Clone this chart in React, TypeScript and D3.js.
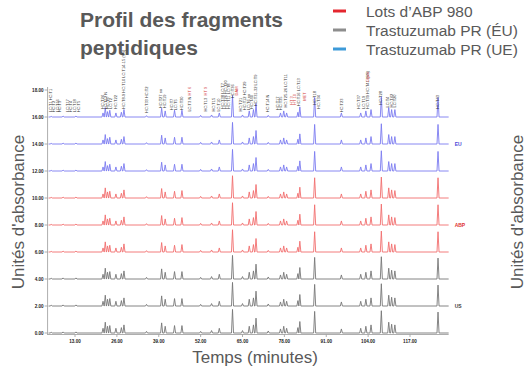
import React from "react";
import * as d3 from "d3";

// ---------- data ----------
const yTickValues = [0, 2, 4, 6, 8, 10, 12, 14, 16, 18];
const xTickValues = [13, 26, 39, 52, 65, 78, 91, 104, 117];

const traceOffsets = [16, 14, 12, 10, 8, 6, 4, 2, 0];
const traceSeries = ["EU", "EU", "EU", "ABP", "ABP", "ABP", "US", "US", "US"];
const seriesNames = ["EU", "ABP", "US"];
const seriesLabelOffsets = [14, 8, 2];

// retention time (min) of each peak
const peakTimes = [
  5.6, 9.3, 13.3, 21.7, 22.4, 23.1, 23.8, 25.7, 27.4, 28.2,
  35.2, 39.9, 41.0, 43.9, 46.2, 52.0, 55.4, 57.8, 61.9, 65.0,
  67.1, 68.4, 69.2, 73.0, 76.8, 77.8, 78.7, 82.2, 82.8, 87.4,
  95.7, 101.7, 103.3, 104.9, 108.1, 110.4, 111.3, 112.3, 125.7,
];
// peak heights (absorbance units)
const peakHeightsEU = [
  0.05, 0.07, 0.07, 0.3, 0.7, 0.4, 0.5, 0.3, 0.35, 0.55,
  0.1, 0.65, 0.45, 0.5, 0.5, 0.12, 0.15, 0.3, 1.6, 0.15,
  0.45, 0.55, 1.0, 0.12, 0.3, 0.45, 0.3, 0.35, 0.75, 1.45,
  0.3, 0.3, 0.45, 0.55, 1.5, 0.7, 0.55, 0.55, 1.45,
];
const peakHeightsABP = [
  0.05, 0.07, 0.07, 0.3, 0.75, 0.45, 0.5, 0.3, 0.35, 0.6,
  0.1, 0.7, 0.45, 0.5, 0.55, 0.12, 0.15, 0.3, 1.65, 0.15,
  0.45, 0.55, 1.0, 0.12, 0.3, 0.45, 0.3, 0.35, 0.8, 1.5,
  0.3, 0.3, 0.5, 0.6, 1.55, 0.75, 0.6, 0.55, 1.5,
];
const peakHeightsUS = [
  0.06, 0.08, 0.08, 0.35, 0.8, 0.5, 0.55, 0.35, 0.4, 0.6,
  0.12, 0.75, 0.5, 0.55, 0.55, 0.12, 0.18, 0.35, 1.75, 0.18,
  0.5, 0.6, 1.1, 0.15, 0.3, 0.5, 0.35, 0.4, 0.85, 1.6,
  0.3, 0.35, 0.5, 0.6, 1.65, 0.8, 0.65, 0.6, 1.55,
];

// peak annotations above the top trace
const annotTimes = [
  5.4, 6.4, 7.5, 8.4, 10.8, 11.8, 12.8, 14.0, 21.5, 22.4,
  23.2, 24.0, 25.7, 28.2, 35.2, 39.6, 40.8, 43.0, 44.2, 46.2,
  48.7, 48.7, 53.5, 53.5, 56.0, 57.6, 58.8, 59.8, 60.8, 61.9,
  63.2, 64.4, 65.6, 66.8, 68.0, 69.2, 72.7, 75.8, 77.0, 78.5,
  80.2, 81.2, 82.6, 84.2, 87.4, 88.8, 95.7, 101.2, 102.6, 104.0,
  104.0, 108.0, 110.2, 111.3, 112.4, 125.7,
];
const annotTexts = [
  "LC:T1 HC:T1", "HC:T2", "LC:T16", "HC:T3", "LC:T17", "HC:T4", "LC:T18", "HC:T5",
  "HC:T24", "LC:T12 N", "HC:T6", "LC:T2", "HC:T22", "HC:T8-9 HC:T10 LC:T14-15 (SS)",
  "HC:T33 HC:T2", "HC:T27 ox", "HC:T19", "HC:T7", "LC:T5", "HC:T30",
  "HT 6", "LC:T3 N", "HT 9", "HC:T13", "HC:T15", "LC:T10", "HC:T38 LC:T7",
  "HC:T26 HC:T20", "HC:T11 LC:T8", "HC:T36", "DAM", "HC:T21", "HC:T12 HC:T29",
  "LC:T6 ox", "HC:T40", "HC:T31-32 LC:T9", "HC:T14 N", "HC:T17", "HC:T35",
  "HC:T25-26 LC:T11", "HT 3", "HT 10", "HC:T16 LC:T13", "MET", "HC:T18",
  "HC:T34", "HC:T23", "HC:T37", "LC:T19", "HC:T39 HC:T41 (SS)", "Glyco",
  "HC:T28", "LC:T4", "HC:T42", "LC:T20", "HC:T43",
];
const annotColors = [
  "k", "k", "k", "k", "k", "k", "k", "k", "k", "k",
  "k", "k", "k", "k", "k", "k", "k", "k", "k", "k",
  "r", "k", "r", "k", "k", "k", "k", "k", "k", "k",
  "r", "k", "k", "k", "k", "k", "k", "k", "k", "k",
  "r", "r", "k", "r", "k", "k", "k", "k", "k", "k",
  "r", "k", "k", "k", "k", "k",
];
const annotLevels = [
  16.35, 16.35, 16.35, 16.35, 16.35, 16.35, 16.35, 16.35, 16.6, 16.6,
  16.6, 16.6, 16.6, 16.6, 16.3, 16.65, 16.65, 16.5, 16.5, 16.5,
  17.6, 16.4, 17.6, 16.4, 16.4, 16.4, 16.6, 16.6, 16.6, 17.4,
  17.6, 16.4, 16.5, 16.5, 16.6, 16.8, 16.35, 16.5, 16.5, 16.7,
  16.9, 16.9, 16.8, 17.2, 16.9, 16.6, 16.35, 16.6, 16.6, 16.6,
  18.6, 16.9, 16.7, 16.7, 16.7, 16.6,
];

const legendLabels = ["Lots d’ABP 980", "Trastuzumab PR (ÉU)", "Trastuzumab PR (UE)"];
const titleLines = ["Profil des fragments", "peptidiques"];

// ---------- styles ----------
const legendColors = ["#e4262f", "#8d8d8d", "#3d9ad8"];
const traceColors: Record<string, string> = { EU: "#7c7cf0", ABP: "#f26e6e", US: "#777777" };
const seriesLabelColors: Record<string, string> = { EU: "#4a4ad8", ABP: "#e03535", US: "#444444" };
const textGray = "#595959";
const FONT = "'Liberation Sans', Arial, sans-serif";

export default function App() {
  const W = 530;
  const H = 374;
  const x = d3.scaleLinear().domain([13, 117]).range([75, 410]);
  const y = d3.scaleLinear().domain([0, 18]).range([333, 90]);
  const tStart = 4.8;
  const tEnd = 129;
  const halfWidth = 0.32;
  const axisX = x(tStart) - 1;

  const heights: Record<string, number[]> = {
    EU: peakHeightsEU,
    ABP: peakHeightsABP,
    US: peakHeightsUS,
  };

  const line = d3
    .line<[number, number]>()
    .x((d) => x(d[0]))
    .y((d) => y(d[1]));

  const tracePath = (offset: number, hs: number[]) => {
    const pts: [number, number][] = [[tStart, offset]];
    peakTimes.forEach((t, i) => {
      pts.push([t - halfWidth, offset], [t, offset + hs[i]], [t + halfWidth, offset]);
    });
    pts.push([tEnd, offset]);
    return line(pts) || "";
  };

  return (
    <svg
      width={W}
      height={H}
      viewBox={`0 0 ${W} ${H}`}
      style={{ position: "absolute", left: 0, top: 0, background: "#fff" }}
      fontFamily={FONT}
    >
      {/* title */}
      {titleLines.map((t, i) => (
        <text key={t} x={80} y={27 + i * 28} fontSize={21} fontWeight="bold" fill={textGray}>
          {t}
        </text>
      ))}

      {/* legend */}
      {legendLabels.map((t, i) => (
        <g key={t}>
          <line
            x1={333}
            x2={346}
            y1={11 + i * 19}
            y2={11 + i * 19}
            stroke={legendColors[i]}
            strokeWidth={3}
          />
          <text x={366} y={16.5 + i * 19} fontSize={15.5} fill={textGray}>
            {t}
          </text>
        </g>
      ))}

      {/* y axis */}
      <line x1={axisX} x2={axisX} y1={y(18) - 3} y2={y(0) + 2} stroke="#999" strokeWidth={0.8} />
      {yTickValues.map((v) => (
        <g key={v}>
          <line x1={axisX - 3} x2={axisX} y1={y(v)} y2={y(v)} stroke="#999" strokeWidth={0.8} />
          <text
            x={axisX - 4}
            y={y(v) + 1.6}
            fontSize={4.6}
            fontWeight="bold"
            textAnchor="end"
            fill="#222"
          >
            {v.toFixed(2)}
          </text>
        </g>
      ))}

      {/* x axis */}
      <line x1={axisX} x2={x(tEnd)} y1={y(0) + 1.5} y2={y(0) + 1.5} stroke="#999" strokeWidth={0.8} />
      {xTickValues.map((v) => (
        <g key={v}>
          <line x1={x(v)} x2={x(v)} y1={y(0) + 1.5} y2={y(0) + 4} stroke="#999" strokeWidth={0.8} />
          <text x={x(v)} y={y(0) + 10} fontSize={4.6} fontWeight="bold" textAnchor="middle" fill="#222">
            {v.toFixed(2)}
          </text>
        </g>
      ))}

      {/* traces */}
      {traceOffsets.map((off, i) => (
        <path
          key={i}
          d={tracePath(off, heights[traceSeries[i]])}
          fill="none"
          stroke={traceColors[traceSeries[i]]}
          strokeWidth={0.9}
        />
      ))}

      {/* series labels */}
      {seriesNames.map((n, i) => (
        <text
          key={n}
          x={x(tEnd) + 6}
          y={y(seriesLabelOffsets[i]) + 1.5}
          fontSize={5}
          fontWeight="bold"
          fill={seriesLabelColors[n]}
        >
          {n}
        </text>
      ))}

      {/* peak annotations */}
      {annotTimes.map((t, i) => (
        <text
          key={i}
          transform={`translate(${x(t) + 1.3},${y(annotLevels[i])}) rotate(-90)`}
          fontSize={4}
          fill={annotColors[i] === "r" ? "#d23a3a" : "#333"}
        >
          {annotTexts[i]}
        </text>
      ))}

      {/* axis titles */}
      <text
        transform={`translate(24,212) rotate(-90)`}
        textAnchor="middle"
        fontSize={17}
        fill={textGray}
      >
        Unités d'absorbance
      </text>
      <text
        transform={`translate(523,212) rotate(-90)`}
        textAnchor="middle"
        fontSize={17}
        fill={textGray}
      >
        Unités d'absorbance
      </text>
      <text x={255} y={363} textAnchor="middle" fontSize={17} fill={textGray}>
        Temps (minutes)
      </text>
    </svg>
  );
}
